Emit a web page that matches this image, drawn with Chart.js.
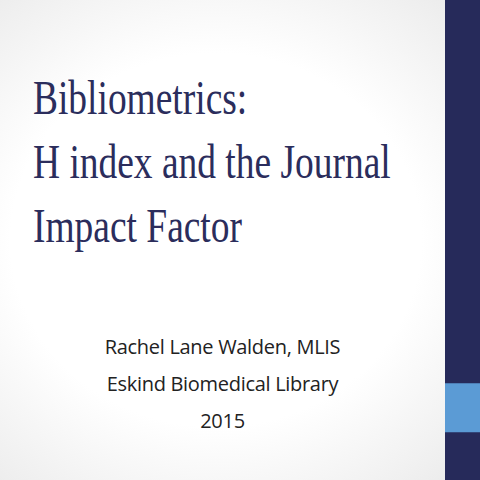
<!DOCTYPE html>
<html><head><meta charset="utf-8">
<script src="https://cdn.jsdelivr.net/npm/chart.js@4"></script>
<style>
html,body{margin:0;padding:0;width:480px;height:480px;overflow:hidden;}
body{background:radial-gradient(ellipse at 45% 50%,#ffffff 55%,#e9e9e9 100%);position:relative;}
#title{position:absolute;left:33px;top:66px;color:#2b2d5c;font-size:48px;line-height:64px;white-space:nowrap;font-family:"Liberation Serif","DejaVu Serif",serif;transform:scaleX(0.78);transform-origin:0 0;}
#sub{position:absolute;left:0;width:445px;top:328px;text-align:center;color:#222;font-size:20px;line-height:37px;font-family:"Open Sans",sans-serif;letter-spacing:-0.3px;}
#band{position:absolute;left:445px;top:0;width:35px;height:480px;}
</style></head><body>
<div id="title">Bibliometrics:<br>H index and the Journal<br>Impact Factor</div>
<div id="sub">Rachel Lane Walden, MLIS<br>Eskind Biomedical Library<br>2015</div>
<div id="band"><canvas id="c" width="35" height="480"></canvas></div>
<script>
const categories=["band"];
const segTop=[383];
const segAccent=[49];
const segBottom=[48];
new Chart(document.getElementById('c'),{type:'bar',
data:{labels:categories,datasets:[
{data:segTop,backgroundColor:'#262a5a'},
{data:segAccent,backgroundColor:'#5b9bd5'},
{data:segBottom,backgroundColor:'#262a5a'}]},
options:{responsive:false,animation:false,layout:{padding:0},
plugins:{legend:{display:false},tooltip:{enabled:false}},
datasets:{bar:{barPercentage:1,categoryPercentage:1,borderWidth:0}},
scales:{x:{stacked:true,display:false},y:{stacked:true,display:false,reverse:true,min:0,max:480}}}});
</script>
</body></html>
